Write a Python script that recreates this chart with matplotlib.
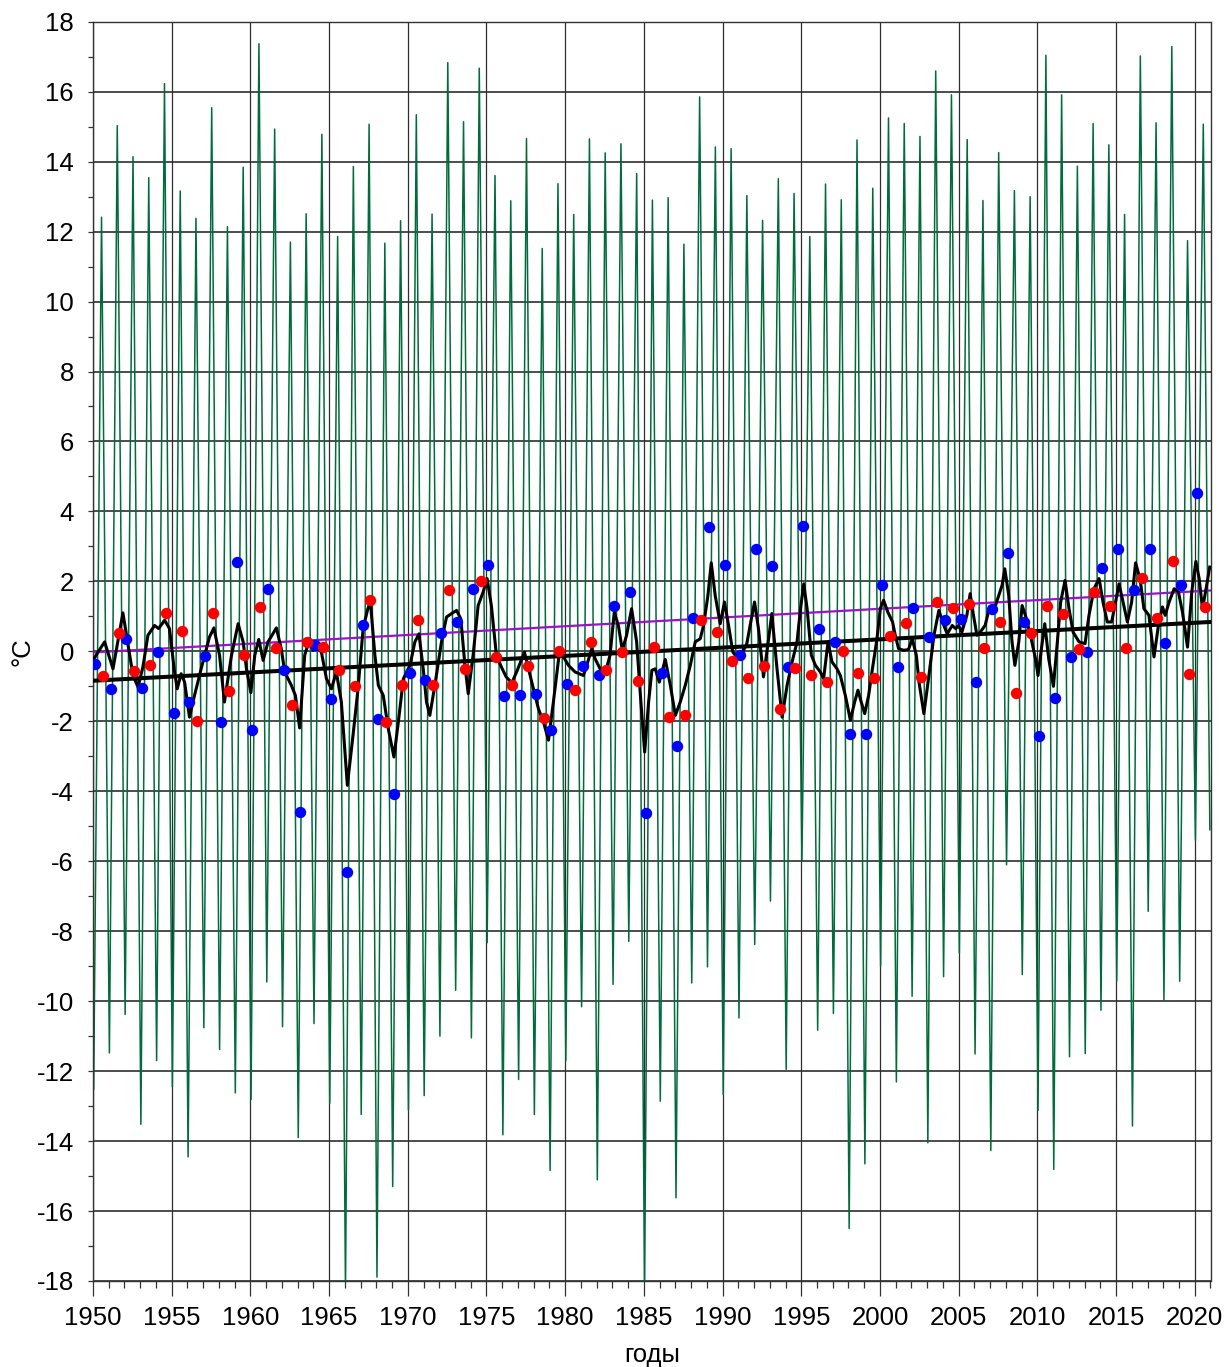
import numpy as np
import matplotlib
matplotlib.use("Agg")
import matplotlib.pyplot as plt
from matplotlib.ticker import MultipleLocator

plt.rcParams['font.family'] = ['Liberation Sans', 'DejaVu Sans']
plt.rcParams['axes.unicode_minus'] = False

# ---------------- data ----------------
years = list(range(1950, 2021))

# monthly temperature: January minimum and July maximum of each year
jan_min = [-12.52, -11.48, -10.38, -13.52, -11.70, -12.45, -14.45, -10.76, -11.38, -12.62,
           -12.81, -9.45, -10.73, -13.90, -10.64, -12.92, -18.33, -13.24, -17.89, -15.30,
           -13.11, -12.70, -11.00, -9.69, -11.05, -8.33, -13.82, -12.24, -13.24, -14.84,
           -11.70, -10.16, -15.11, -9.52, -8.29, -18.29, -12.86, -15.62, -9.48, -9.02,
           -12.67, -10.48, -8.38, -7.14, -11.95, -6.00, -10.83, -10.35, -16.50, -14.65,
           -9.00, -12.31, -9.86, -14.05, -9.30, -8.62, -11.51, -14.27, -6.10, -9.24,
           -13.12, -14.81, -11.59, -11.50, -10.26, -9.43, -13.57, -7.43, -9.97, -9.43,
           -5.40]
jul_max = [12.41, 15.03, 14.14, 13.54, 16.23, 13.16, 12.38, 15.54, 12.14, 13.84,
           17.37, 14.93, 11.70, 12.51, 14.78, 11.86, 13.86, 15.07, 11.67, 12.31,
           15.34, 12.50, 16.83, 15.14, 16.67, 13.60, 12.88, 14.66, 11.52, 13.37,
           12.49, 14.65, 14.25, 14.51, 13.66, 12.90, 12.97, 11.64, 15.85, 14.42,
           14.37, 13.03, 12.32, 13.51, 13.09, 11.86, 13.36, 12.91, 14.62, 13.24,
           15.25, 15.09, 14.72, 16.59, 15.91, 14.63, 12.89, 14.26, 13.17, 13.00,
           17.04, 15.91, 13.87, 15.09, 14.48, 12.49, 17.02, 15.11, 17.29, 11.74,
           15.07]
dec_last = -5.10  # December 2020

# half-year anomalies: cold season (blue) and warm season (red)
blue_vals = [-0.36, -1.09, 0.34, -1.05, -0.02, -1.75, -1.45, -0.13, -2.02, 2.55,
             -2.24, 1.77, -0.54, -4.59, 0.19, -1.35, -6.30, 0.74, -1.92, -4.07,
             -0.61, -0.81, 0.53, 0.84, 1.79, 2.48, -1.28, -1.26, -1.23, -2.25,
             -0.93, -0.42, -0.69, 1.30, 1.70, -4.61, -0.63, -2.72, 0.96, 3.55,
             2.46, -0.10, 2.92, 2.43, -0.44, 3.58, 0.64, 0.28, -2.37, -2.35,
             1.91, -0.44, 1.24, 0.41, 0.89, 0.93, -0.88, 1.20, 2.82, 0.84,
             -2.43, -1.34, -0.16, -0.02, 2.37, 2.93, 1.74, 2.93, 0.23, 1.89,
             4.53]
red_vals = [-0.70, 0.53, -0.57, -0.40, 1.10, 0.59, -1.98, 1.09, -1.12, -0.10,
            1.26, 0.10, -1.52, 0.27, 0.13, -0.52, -0.99, 1.46, -2.02, -0.95,
            0.89, -0.95, 1.76, -0.50, 2.00, -0.16, -0.97, -0.43, -1.90, 0.00,
            -1.11, 0.27, -0.53, -0.02, -0.84, 0.12, -1.89, -1.81, 0.91, 0.54,
            -0.29, -0.77, -0.43, -1.66, -0.48, -0.67, -0.88, 0.00, -0.61, -0.76,
            0.43, 0.81, -0.73, 1.41, 1.24, 1.36, 0.10, 0.84, -1.19, 0.52,
            1.31, 1.06, 0.06, 1.70, 1.30, 0.10, 2.10, 0.96, 2.58, -0.66,
            1.28]

# smoothed anomaly curve (time, value)
smooth_t = [1950.00, 1950.32, 1950.74, 1951.27, 1951.90, 1952.54, 1952.86, 1953.17, 1953.49, 1953.91,
            1954.17, 1954.55, 1954.86, 1955.18, 1955.35, 1955.60, 1955.82, 1956.13, 1956.45, 1956.87,
            1957.40, 1957.68, 1958.04, 1958.35, 1958.80, 1959.22, 1959.54, 1959.75, 1960.03, 1960.28,
            1960.53, 1960.81, 1961.12, 1961.65, 1961.96, 1962.18, 1962.60, 1962.86, 1963.13, 1963.45,
            1963.77, 1963.98, 1964.19, 1964.51, 1964.83, 1965.15, 1965.46, 1965.78, 1966.16, 1966.52,
            1966.84, 1967.16, 1967.45, 1967.62, 1967.91, 1968.13, 1968.44, 1968.76, 1969.12, 1969.40,
            1969.72, 1970.14, 1970.45, 1970.71, 1970.98, 1971.19, 1971.40, 1971.72, 1972.14, 1972.46,
            1972.78, 1973.10, 1973.37, 1973.63, 1973.84, 1974.15, 1974.47, 1974.79, 1975.04, 1975.31,
            1975.63, 1975.95, 1976.25, 1976.61, 1976.95, 1977.41, 1977.67, 1977.98, 1978.30, 1978.62,
            1978.94, 1979.25, 1979.61, 1979.89, 1980.21, 1980.63, 1981.16, 1981.37, 1981.69, 1981.90,
            1982.22, 1982.53, 1982.85, 1983.12, 1983.38, 1983.63, 1983.90, 1984.22, 1984.54, 1984.81,
            1985.05, 1985.30, 1985.51, 1985.72, 1985.98, 1986.36, 1986.68, 1987.00, 1987.31, 1987.63,
            1987.95, 1988.26, 1988.58, 1988.79, 1989.07, 1989.28, 1989.53, 1989.85, 1990.12, 1990.38,
            1990.65, 1990.97, 1991.22, 1991.54, 1991.75, 1992.03, 1992.28, 1992.60, 1992.87, 1993.13,
            1993.46, 1993.78, 1994.10, 1994.42, 1994.73, 1994.95, 1995.16, 1995.37, 1995.64, 1995.90,
            1996.21, 1996.42, 1996.70, 1996.95, 1997.27, 1997.48, 1997.80, 1998.12, 1998.39, 1998.60,
            1998.81, 1999.03, 1999.28, 1999.49, 1999.81, 2000.02, 2000.23, 2000.50, 2000.80, 2000.97,
            2001.18, 2001.50, 2001.81, 2002.05, 2002.31, 2002.48, 2002.79, 2003.11, 2003.43, 2003.74,
            2004.06, 2004.27, 2004.59, 2004.81, 2004.99, 2005.20, 2005.52, 2005.73, 2005.94, 2006.16,
            2006.37, 2006.68, 2006.94, 2007.21, 2007.41, 2007.76, 2007.93, 2008.18, 2008.39, 2008.57,
            2008.82, 2009.03, 2009.24, 2009.56, 2009.88, 2010.04, 2010.26, 2010.47, 2010.72, 2011.02,
            2011.27, 2011.48, 2011.76, 2012.01, 2012.27, 2012.65, 2013.03, 2013.28, 2013.60, 2013.92,
            2014.17, 2014.44, 2014.72, 2014.97, 2015.19, 2015.44, 2015.72, 2015.99, 2016.24, 2016.52,
            2016.77, 2017.09, 2017.41, 2017.69, 2017.95, 2018.12, 2018.37, 2018.69, 2018.96, 2019.22,
            2019.54, 2019.81, 2020.07, 2020.28, 2020.49, 2020.70, 2020.95]
smooth_v = [-0.26, -0.02, 0.27, -0.50, 1.10, -0.69, -1.02, -0.45, 0.46, 0.74,
            0.65, 0.89, 0.65, -0.59, -1.07, -0.64, -0.88, -1.88, -1.26, -0.50,
            0.41, 0.67, -0.11, -1.45, -0.11, 0.79, 0.27, -0.50, -1.18, -0.11,
            0.34, -0.26, 0.27, 0.67, 0.08, -0.59, -0.97, -1.26, -2.19, -0.11,
            0.36, 0.03, 0.12, -0.02, -0.78, -1.07, -0.59, -1.45, -3.83, -2.40,
            -1.07, 0.65, 1.20, 1.42, -0.11, -0.97, -1.26, -2.21, -3.02, -2.02,
            -0.78, -0.40, 0.27, 0.50, -0.50, -1.45, -1.83, -0.97, 0.27, 0.98,
            1.08, 1.17, 0.93, -0.40, -1.21, -0.11, 1.31, 1.70, 2.08, 1.31,
            -0.11, -0.45, -0.73, -0.90, -0.55, -0.02, -0.50, -1.07, -1.64, -2.02,
            -2.54, -1.45, -0.11, -0.16, -0.40, -0.59, -0.69, -0.40, 0.08, -0.21,
            -0.50, -0.64, -0.11, 1.12, 0.74, 0.03, 0.46, 1.22, 0.27, -1.45,
            -2.88, -1.45, -0.54, -0.50, -0.88, -0.23, -0.97, -1.83, -1.45, -0.97,
            -0.40, 0.27, 0.36, 0.74, 1.60, 2.53, 1.60, 0.79, 1.41, 0.74,
            -0.02, -0.21, -0.07, 0.22, 0.74, 1.41, 0.65, -0.73, 0.17, 1.08,
            -0.50, -1.88, -0.97, -0.30, 0.27, 1.22, 1.93, 1.22, -0.11, -0.40,
            -0.59, -0.78, 0.27, -0.30, -0.50, -0.69, -1.26, -1.97, -1.45, -1.11,
            -1.45, -1.78, -1.26, -0.59, 0.36, 1.22, 1.46, 1.12, 0.84, 0.46,
            0.08, 0.03, 0.05, 0.36, -0.11, -0.88, -1.78, -0.69, 0.46, 1.17,
            0.74, 0.50, 0.74, 0.65, 0.74, 0.55, 1.03, 1.65, 1.03, 0.46,
            0.55, 0.74, 1.22, 1.12, 1.41, 1.89, 2.36, 1.60, 0.27, -0.40,
            0.27, 1.31, 1.03, 0.46, -0.21, -0.69, 0.08, 0.79, -0.21, -1.00,
            0.27, 1.41, 2.03, 1.22, 0.55, 0.27, 0.22, 1.03, 1.79, 2.08,
            1.41, 0.84, 0.84, 1.41, 1.93, 1.41, 0.84, 1.41, 2.53, 2.08,
            1.22, 1.03, -0.16, 0.74, 1.27, 1.03, 1.41, 1.79, 1.70, 1.12,
            0.12, 1.70, 2.57, 2.08, 1.22, 1.74, 2.41]

# linear trends: value at 1950 and at 2021
trend_years = [1950, 2021]
trend_black = [-0.84, 0.84]
trend_purple = [-0.03, 1.74]

# ---------------- figure ----------------
W, H = 1227, 1367
fig = plt.figure(figsize=(W / 100, H / 100), dpi=100)
ax = fig.add_axes([93 / W, 1 - 1281 / H, (1210.5 - 93) / W, (1281 - 21.7) / H])

# green monthly series (Jan min / Jul max of each year)
g_t, g_v = [], []
for y, lo, hi in zip(years, jan_min, jul_max):
    g_t += [y + 0.5 / 12, y + 6.5 / 12]
    g_v += [lo, hi]
g_t.append(years[-1] + 11.5 / 12)
g_v.append(dec_last)
ax.plot(g_t, g_v, color='#006b3c', lw=1.1, zorder=2)

ax.plot(trend_years, trend_purple, color='#9b14c8', lw=1.6, zorder=3)
ax.plot(trend_years, trend_black, color='black', lw=2.9, zorder=4)
ax.plot(smooth_t, smooth_v, color='black', lw=2.2, zorder=5)

yrs = np.array(years)
ax.plot(yrs + 1.5 / 12, blue_vals, 'o', color='#0000ff', ms=8.2, mec='none', zorder=6)
ax.plot(yrs + 7.5 / 12, red_vals, 'o', color='#ff0000', ms=8.2, mec='none', zorder=6)

ax.set_xlim(1950, 2021)
ax.set_ylim(-18, 18)
ax.xaxis.set_major_locator(MultipleLocator(5))
ax.xaxis.set_minor_locator(MultipleLocator(1))
ax.yaxis.set_major_locator(MultipleLocator(2))
ax.yaxis.set_minor_locator(MultipleLocator(1))

ax.grid(True, axis='y', which='major', color='#2e2e2e', lw=1.2, zorder=1)
ax.grid(True, axis='x', which='major', color='#2e2e2e', lw=0.9, zorder=1)
ax.set_axisbelow(True)

ax.tick_params(axis='x', which='major', length=11, width=0.9, pad=7, labelsize=18.5, color='#333333')
ax.tick_params(axis='x', which='minor', length=5, width=0.9, color='#333333')
ax.tick_params(axis='y', which='both', length=3.6, width=0.9, pad=10, labelsize=18.5, color='#333333')
for s in ax.spines.values():
    s.set_color('#333333')
    s.set_linewidth(1.0)

ax.set_xlabel('годы', fontsize=18.5)
ax.xaxis.set_label_coords(0.5, -0.049)
ax.set_ylabel('°C', fontsize=18.5)
ax.yaxis.set_label_coords(-0.052, 0.5)

fig.savefig('out.png', dpi=100)
